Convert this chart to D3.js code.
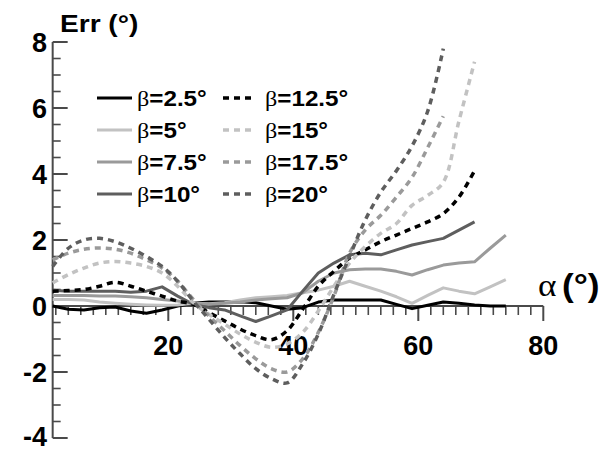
<!DOCTYPE html>
<html><head><meta charset="utf-8">
<script src="https://cdn.jsdelivr.net/npm/d3@7/dist/d3.min.js"></script>
<style>body{margin:0;background:#fff;}svg{display:block;}</style>
</head><body>
<svg id="chart" width="608" height="452"></svg>
<script>
// ---- data ----
const alpha = [1.5,4,6.5,9,11.5,14,16.5,19,21.5,24,26.5,29,31.5,34,36.5,39,41.5,44,46.5,49,51.5,54,56.5,59,61.5,64,66.5,69,71.5,74];
const betaLabels = ["2.5","5","7.5","10","12.5","15","17.5","20"];
const b2_5 = [0.0,-0.1,-0.12,-0.05,-0.03,-0.15,-0.22,-0.12,0.0,0.08,0.12,0.12,0.13,0.1,0.0,-0.1,-0.05,0.12,0.18,0.18,0.18,0.18,0.05,-0.08,0.02,0.12,0.08,0.03,0.0,0.0];
const b5   = [0.2,0.2,0.18,0.12,0.08,0.05,0.03,0.02,0.03,0.08,0.07,0.1,0.18,0.25,0.28,0.32,0.4,0.48,0.6,0.75,0.6,0.45,0.28,0.08,0.32,0.55,0.45,0.37,0.58,0.8];
const b7_5 = [0.32,0.32,0.32,0.3,0.3,0.28,0.25,0.2,0.15,0.08,0.05,0.08,0.12,0.18,0.22,0.25,0.4,0.75,1.0,1.1,1.12,1.12,1.05,0.94,1.1,1.24,1.3,1.34,1.75,2.15];
const b10  = [0.48,0.45,0.45,0.45,0.45,0.42,0.45,0.58,0.3,0.05,-0.05,-0.12,-0.3,-0.47,-0.3,-0.12,0.45,1.0,1.3,1.55,1.6,1.55,1.7,1.85,1.95,2.05,2.3,2.55,null,null];
const b12_5= [0.45,0.47,0.5,0.6,0.72,0.6,0.45,0.3,0.15,0.05,-0.2,-0.45,-0.7,-0.9,-1.02,-0.75,-0.1,0.6,1.05,1.45,1.7,1.95,2.15,2.35,2.55,2.8,3.3,4.1,null,null];
const b15  = [0.7,0.95,1.15,1.3,1.35,1.3,1.2,1.0,0.6,0.1,-0.25,-0.55,-0.85,-1.1,-1.25,-1.15,-0.8,-0.15,0.6,1.3,1.8,2.2,2.5,3.05,3.35,3.75,5.6,7.4,null,null];
const b17_5= [1.4,1.6,1.72,1.76,1.72,1.6,1.4,1.15,0.75,0.2,-0.3,-0.75,-1.2,-1.6,-1.9,-2.0,-1.6,-0.8,0.3,1.6,2.3,2.75,3.3,3.9,4.8,5.75,null,null,null,null];
const b20  = [1.2,1.75,2.0,2.05,1.95,1.75,1.5,1.2,0.75,0.15,-0.4,-0.95,-1.45,-1.9,-2.2,-2.33,-1.75,-0.85,0.35,1.5,2.6,3.45,4.1,4.85,5.9,7.8,null,null,null,null];
const seriesValues = [b2_5,b5,b7_5,b10,b12_5,b15,b17_5,b20];
const yTicks = [-4,-2,0,2,4,6,8];
const xTicks = [20,40,60,80];

// ---- styles ----
const colors = ["#000000","#c2c2c2","#9a9a9a","#5e5e5e","#000000","#c2c2c2","#9a9a9a","#5e5e5e"];
const dashed = [false,false,false,false,true,true,true,true];

const svg = d3.select("#chart");
const x = d3.scaleLinear().domain([0,80]).range([43.3,543.3]);
const y = d3.scaleLinear().domain([-4,8]).range([438,42]);
const axisColor = "#4a4a4a";
const fontSans = "'Liberation Sans', Arial, Helvetica, sans-serif";
const fontSerif = "'Liberation Serif','Times New Roman',serif";

// x axis (at y=0)
const xAxisG = svg.append("g").attr("transform",`translate(0,${y(0)})`);
xAxisG.append("line").attr("x1",x(1.5)).attr("x2",x(80)).attr("y1",0).attr("y2",0)
  .attr("stroke",axisColor).attr("stroke-width",2);
const xMinor = d3.range(2,80,2).filter(v=>v%20!==0);
xAxisG.selectAll(".xm").data(xMinor).join("line")
  .attr("x1",d=>x(d)).attr("x2",d=>x(d)).attr("y1",0).attr("y2",9)
  .attr("stroke",axisColor).attr("stroke-width",1.6);
xAxisG.selectAll(".xM").data(xTicks).join("line")
  .attr("x1",d=>x(d)).attr("x2",d=>x(d)).attr("y1",0).attr("y2",15)
  .attr("stroke",axisColor).attr("stroke-width",2);
xAxisG.selectAll(".xl").data(xTicks).join("text")
  .attr("x",d=>x(d)).attr("y",49).attr("text-anchor","middle")
  .attr("font-family",fontSans).attr("font-weight","bold").attr("font-size",27)
  .text(d=>d);

// y axis
const yAxisX = x(1.5);
const yAxisG = svg.append("g");
yAxisG.append("line").attr("x1",yAxisX).attr("x2",yAxisX).attr("y1",y(8)).attr("y2",y(-4))
  .attr("stroke",axisColor).attr("stroke-width",2);
const yMinor = d3.range(-4,8.01,0.5).filter(v=>v%2!==0);
yAxisG.selectAll(".ym").data(yMinor).join("line")
  .attr("x1",yAxisX).attr("x2",yAxisX+8).attr("y1",d=>y(d)).attr("y2",d=>y(d))
  .attr("stroke",axisColor).attr("stroke-width",1.6);
yAxisG.selectAll(".yM").data(yTicks).join("line")
  .attr("x1",yAxisX).attr("x2",yAxisX+15).attr("y1",d=>y(d)).attr("y2",d=>y(d))
  .attr("stroke",axisColor).attr("stroke-width",2);
yAxisG.selectAll(".yl").data(yTicks).join("text")
  .attr("x",47).attr("y",d=>Math.min(y(d)+10,446)).attr("text-anchor","end")
  .attr("font-family",fontSans).attr("font-weight","bold").attr("font-size",27)
  .text(d=>d);

// axis titles
svg.append("text").attr("transform","translate(60,32) scale(1.17,1)")
  .attr("font-family",fontSans).attr("font-weight","bold").attr("font-size",24)
  .text("Err (°)");
const xt = svg.append("text").attr("transform","translate(538,296) scale(1.1,1)").attr("font-size",32);
xt.append("tspan").attr("font-family",fontSerif).text("α");
xt.append("tspan").attr("dx",5).attr("font-family",fontSans).attr("font-weight","bold").text("(°)");

// lines
const lineSolid = d3.line().defined(d=>d[1]!==null).x(d=>x(d[0])).y(d=>y(d[1]));
const lineDash = d3.line().defined(d=>d[1]!==null).x(d=>x(d[0])).y(d=>y(d[1])).curve(d3.curveCatmullRom.alpha(0.5));
seriesValues.forEach((vals,i)=>{
  const pts = alpha.map((a,k)=>[a,vals[k]]);
  svg.append("path").attr("d",(dashed[i]?lineDash:lineSolid)(pts))
    .attr("fill","none").attr("stroke",colors[i])
    .attr("stroke-width",dashed[i]?3.5:3)
    .attr("stroke-dasharray",dashed[i]?"6,5":null)
    .attr("stroke-linejoin","round");
});

// legend
const legRowY = [98,130,162,194];
betaLabels.forEach((b,i)=>{
  const col = i<4?0:1, row = i%4;
  const lx = col===0?97:223, lw = col===0?35:32, tx = col===0?137:265;
  const ly = legRowY[row];
  svg.append("line").attr("x1",lx).attr("x2",lx+lw).attr("y1",ly).attr("y2",ly)
    .attr("stroke",colors[i]).attr("stroke-width",dashed[i]?3.5:3)
    .attr("stroke-dasharray",dashed[i]?"6,5":null);
  const t = svg.append("text").attr("transform",`translate(${tx},${ly+8}) scale(1.1,1)`).attr("font-size",22);
  t.append("tspan").attr("font-family",fontSerif).text("β");
  t.append("tspan").attr("font-family",fontSans).attr("font-weight","bold").text("="+b+"°");
});
</script>
</body></html>
